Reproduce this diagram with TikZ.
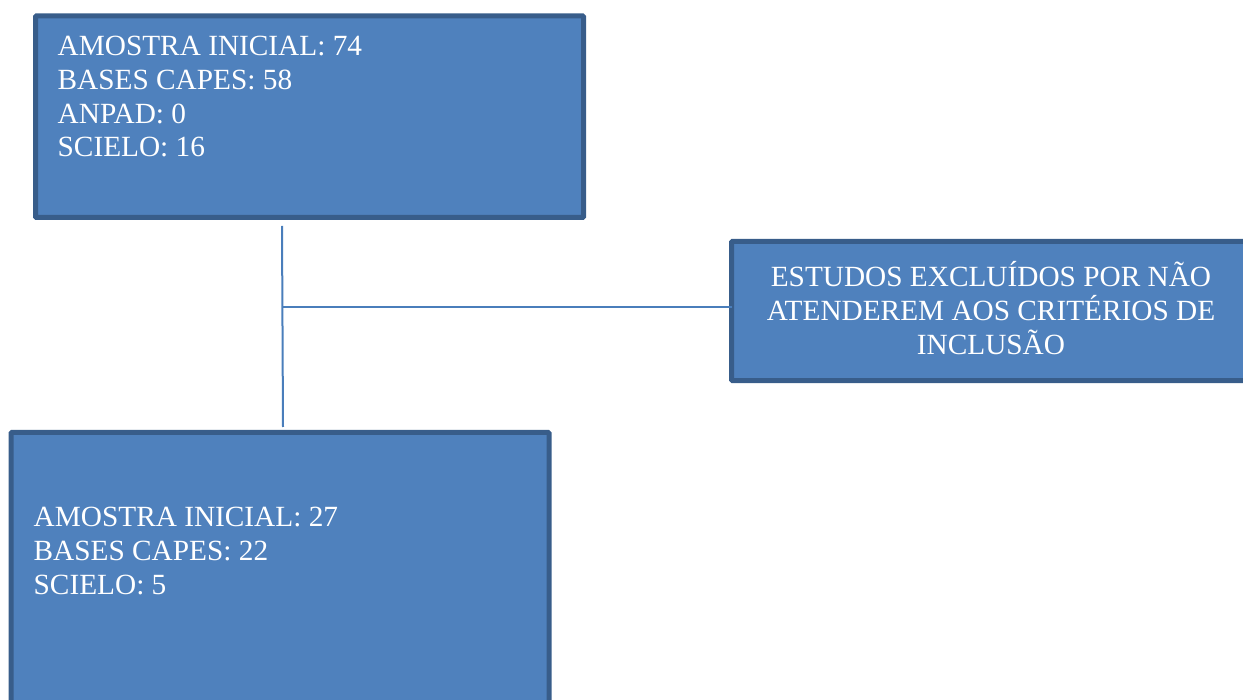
\documentclass[tikz,border=0pt]{standalone}
\usepackage{fontspec}
\setmainfont{Liberation Serif}
\definecolor{boxfill}{HTML}{4F81BD}
\definecolor{boxline}{HTML}{385D8A}
\definecolor{conn}{HTML}{4A7EBB}
\tikzset{
  flowbox/.style={draw=boxline, fill=boxfill, line width=5pt, rectangle, rounded corners=1pt,
    outer sep=0pt, inner sep=0pt, anchor=north west},
  boxtext/.style={text=white, inner sep=0pt, font=\fontsize{29.3}{33.8}\selectfont},
  link/.style={draw=conn, line width=2pt}
}
\begin{document}
\begin{tikzpicture}[x=1pt,y=-1pt]
\useasboundingbox (0,0) rectangle (1243,700);
\clip (0,0) rectangle (1243,700);
% boxes
\node[flowbox, minimum width=548pt, minimum height=201.5pt] (b1) at (35.5,16) {};
\node[flowbox, minimum width=521pt, minimum height=139.2pt] (ex) at (731.5,241.5) {};
\node[flowbox, minimum width=538pt, minimum height=320pt] (b2) at (11,432.5) {};
% texts
\node[boxtext, align=left, anchor=south west] (t1) at (57.5,157.5)
  {AMOSTRA INICIAL: 74\\BASES CAPES: 58\\ANPAD: 0\\SCIELO: 16};
\node[boxtext, align=center, anchor=south] (tex) at (991,355)
  {ESTUDOS EXCLUÍDOS POR NÃO\\ATENDEREM AOS CRITÉRIOS DE\\INCLUSÃO};
\node[boxtext, align=left, anchor=south west] (t2) at (33.5,595)
  {AMOSTRA INICIAL: 27\\BASES CAPES: 22\\SCIELO: 5};
% connectors
\coordinate (vtop) at (282,226);
\coordinate (vbot) at (283,427);
\coordinate (jn) at (283,306.7);
\draw[link] (vtop) -- (vbot);
\draw[link] (jn) -- (ex.west |- jn);
\end{tikzpicture}
\end{document}
